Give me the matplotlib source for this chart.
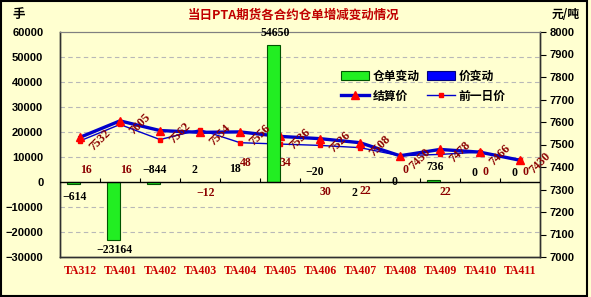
import matplotlib
matplotlib.use("Agg")
import matplotlib.pyplot as plt
from matplotlib.patches import Patch, Rectangle
from matplotlib.lines import Line2D

# ---------------- data ----------------
categories = ["TA312", "TA401", "TA402", "TA403", "TA404", "TA405",
              "TA406", "TA407", "TA408", "TA409", "TA410", "TA411"]
warrant_change = [-614, -23164, -844, 2, 18, 54650, -20, 2, 0, 736, 0, 0]      # 仓单变动 (手)
price_change = [16, 16, 40, -12, 48, 34, 30, 22, 0, 22, 0, 0]                 # 价变动
price_change_shown = [True, True, False, True, True, True, True, True, True, True, True, True]
settle_price = [7532, 7605, 7562, 7554, 7556, 7536, 7526, 7508, 7450, 7478, 7466, 7430]   # 结算价
prev_price = [7516, 7589, 7522, 7566, 7508, 7502, 7496, 7486, 7450, 7456, 7466, 7430]     # 前一日价

left_ticks = [-30000, -20000, -10000, 0, 10000, 20000, 30000, 40000, 50000, 60000]
right_ticks = [7000, 7100, 7200, 7300, 7400, 7500, 7600, 7700, 7800, 7900, 8000]

# ---------------- layout (label placement, left-axis units) ----------------
bar_label_y = [-6000, -27200, 4800, 4800, 5200, 59600, 4000, -4400, 0, 6000, 3600, 3600]
price_label_y = [4800, 4800, 0, -4400, 7600, 7600, -4000, -3600, 4800, -4000, 4000, 4000]

BG = "#FFFFD0"
DARKRED = "#8B0000"
TITLE_RED = "#C00000"
CJK = ["Noto Sans CJK SC", "DejaVu Sans"]
NUMF = ["Liberation Serif", "DejaVu Serif"]

fig = plt.figure(figsize=(5.91, 2.97), dpi=100, facecolor=BG)
ax2 = fig.add_axes([60 / 591, 40 / 297, 480 / 591, 225 / 297])
ax = ax2.twinx()
ax.yaxis.set_ticks_position("left")
ax.yaxis.set_label_position("left")
ax2.yaxis.set_ticks_position("right")
ax2.set_facecolor(BG)
ax.set_zorder(ax2.get_zorder() + 1)
ax.patch.set_visible(False)

n = len(categories)
xs = list(range(n))
ax.set_xlim(-0.5, n - 0.5)
ax2.set_xlim(-0.5, n - 0.5)
ax.set_ylim(left_ticks[0], left_ticks[-1])
ax2.set_ylim(right_ticks[0], right_ticks[-1])

# gridlines (left-axis values), drawn in the back axes
grid_vals = [v for v in left_ticks if v not in (0, left_ticks[0], left_ticks[-1])]
ax2.hlines(grid_vals, -0.5, n - 0.5, transform=ax.transData, colors="#B8B8B8",
           linestyles=(0, (4, 3)), linewidth=0.8, zorder=0)

# price lines (right axis)
ax2.plot(xs, settle_price, color="#0000CC", lw=2.4, marker="^", ms=6,
         mfc="#FF0000", mec="#FF0000", zorder=3)
ax2.plot(xs, prev_price, color="#0000CC", lw=1.0, marker="s", ms=2.2,
         mfc="#FF0000", mec="#FF0000", zorder=2)

# bars (left axis)
w = 0.33
bx = [x - w / 2 for x in xs]
px = [x + w / 2 for x in xs]
ax.bar(bx, warrant_change, width=w, color="#22EE22", edgecolor="#005500", lw=0.8, zorder=2)
ax.bar(px, price_change, width=w, color="#0000FF", edgecolor="#000080", lw=0.5, zorder=2)

# zero axis line with ticks between categories
ax.axhline(0, color="black", lw=1.0, zorder=4)
ax.vlines([i + 0.5 for i in range(n - 1)], 0, 1600, colors="black", lw=0.8, zorder=4)

# labels
for i in xs:
    ax.text(i - 0.13, bar_label_y[i], f"{warrant_change[i]}".replace("-", "\u2212"),
            ha="center", va="center", fontsize=8.5, fontweight="bold",
            family=NUMF, color="black", zorder=6, clip_on=False)
    if price_change_shown[i]:
        ax.text(i + 0.14, price_label_y[i], f"{price_change[i]}".replace("-", "\u2212"),
                ha="center", va="center", fontsize=8.5, fontweight="bold",
                family=NUMF, color=DARKRED, zorder=6)
    ax.annotate(f"{settle_price[i]}", xy=(i, settle_price[i]), xycoords=ax2.transData,
                xytext=(20, -3), textcoords="offset pixels", ha="center", va="center",
                rotation=45, fontsize=9, fontweight="bold", family=NUMF,
                color=DARKRED, zorder=6, annotation_clip=False)

# axes styling
ax.set_xticks([])
ax2.set_xticks([])
ax.set_yticks(left_ticks)
ax.set_yticklabels([f"{v}".replace("-", "\u2212") for v in left_ticks])
ax2.set_yticks(right_ticks)
ax.tick_params(axis="y", length=0, pad=12, labelsize=8)
ax2.tick_params(axis="y", length=4, width=0.8, pad=3, labelsize=8, direction="out")
for lab in ax.get_yticklabels() + ax2.get_yticklabels():
    lab.set_fontweight("bold")
    lab.set_family(["Liberation Sans", "DejaVu Sans"])
for a in (ax, ax2):
    for s in ("left", "right", "bottom"):
        a.spines[s].set_color("#303030")
        a.spines[s].set_linewidth(1.0)
    a.spines["top"].set_color("#808080")

for i, c in enumerate(categories):
    ax.text(i, -0.062, c, transform=ax.get_xaxis_transform(), ha="center", va="center",
            fontsize=8.5, fontweight="bold", family=NUMF, color="#CC0000", clip_on=False)

# titles / axis units
fig.text(0.497, 0.95, "当日PTA期货各合约仓单增减变动情况", ha="center", va="center",
         fontsize=9, fontweight="bold", family=CJK, color=TITLE_RED)
fig.text(12 / 591, 1 - 14 / 297, "手", ha="left", va="center", fontsize=9,
         fontweight="bold", family=CJK, color="black")
fig.text(566 / 591, 1 - 15 / 297, "元/吨", ha="center", va="center", fontsize=8.5,
         fontweight="bold", family=CJK, color="black")

# legend
handles = [
    Patch(facecolor="#22EE22", edgecolor="#005500", lw=0.8),
    Line2D([], [], color="#0000CC", lw=2.4, marker="^", ms=6, mfc="#FF0000", mec="#FF0000"),
    Patch(facecolor="#0000FF", edgecolor="#000080", lw=0.8),
    Line2D([], [], color="#0000CC", lw=1.0, marker="s", ms=2.2, mfc="#FF0000", mec="#FF0000"),
]
labels = ["仓单变动", "结算价", "价变动", "前一日价"]
leg = ax.legend(handles, labels, ncol=2, loc="center", bbox_to_anchor=(423 / 591, 1 - 86 / 297),
                bbox_transform=fig.transFigure, frameon=False, handlelength=2.4,
                handleheight=0.8, handletextpad=0.3, columnspacing=0.6, labelspacing=0.6,
                prop={"family": CJK, "weight": "bold", "size": 8.5})
leg.set_zorder(10)

fig.patches.append(Rectangle((0.002, 0.004), 0.992, 0.992, transform=fig.transFigure,
                             fill=False, edgecolor="black", lw=1.5))

fig.savefig("out.png", dpi=100, facecolor=BG)
